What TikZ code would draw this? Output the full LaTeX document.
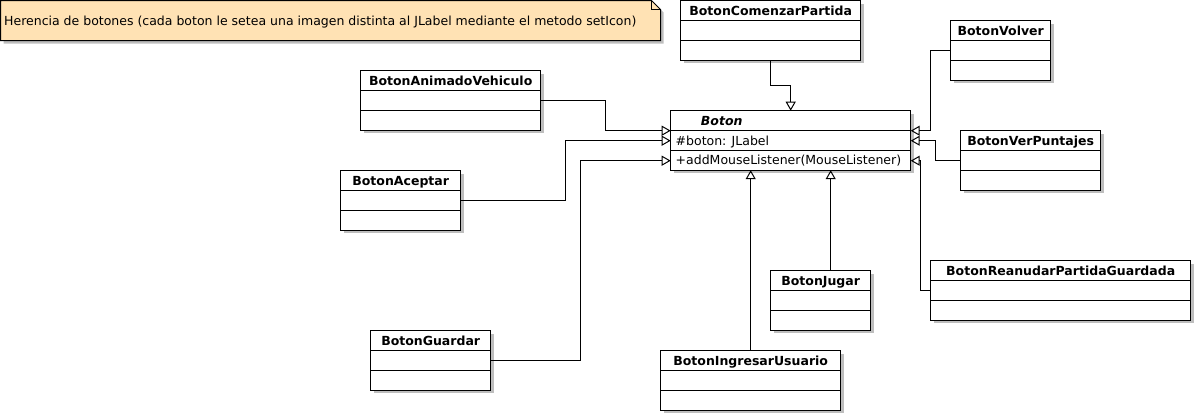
\documentclass[tikz,border=0pt]{standalone}
\usepackage{fontspec}
\setmainfont{DejaVu Sans}
\usetikzlibrary{positioning}
\usetikzlibrary{shapes,shadows,arrows.meta}
\definecolor{notefill}{RGB}{255,226,180}
\definecolor{shade}{RGB}{190,190,190}

\begin{document}
\begin{tikzpicture}[x=1pt,y=-1pt,line width=1pt,
    umlbox/.style={draw, fill=white, inner sep=0pt, outer sep=0pt, minimum height=59.5pt, anchor=north west,
      drop shadow={shadow xshift=3pt, shadow yshift=-3pt, fill=shade, opacity=1},
      path picture={\draw ([yshift=-20pt]path picture bounding box.north west) -- ([yshift=-20pt]path picture bounding box.north east)
                          ([yshift=-40pt]path picture bounding box.north west) -- ([yshift=-40pt]path picture bounding box.north east);}},
    ttl/.style={font=\bfseries\fontsize{12.5}{14}\selectfont, anchor=base, inner sep=0pt},
    member/.style={font=\fontsize{12.5}{14}\selectfont, anchor=base west, inner sep=0pt},
    extends/.style={-{Triangle[open, length=9pt, width=10pt]}}]
     \useasboundingbox (0,0) rectangle (1195,415);

     \node [inner sep=0pt, outer sep=0pt, anchor=north west, minimum width=660pt, minimum height=40pt] (nota) at (0.7,0.7) {};
     \draw [fill=notefill, drop shadow={shadow xshift=3pt, shadow yshift=-3pt, fill=shade, opacity=1}]
          (nota.north west) -- ([xshift=-9pt]nota.north east) -- ([yshift=-9pt]nota.north east) -- (nota.south east) -- (nota.south west) -- cycle;
     \draw ([xshift=-9pt]nota.north east) |- ([yshift=-9pt]nota.north east);
     \node [member] (notatxt) at ([xshift=3pt,yshift=-24.5pt]nota.north west) {Herencia de botones (cada boton le setea una imagen distinta al JLabel mediante el metodo setIcon)};

     \node [umlbox, minimum width=240pt] (boton) at (670.7,110.7) {};
     \node [ttl] (botonT) at ([xshift=-69pt,yshift=-15pt]boton.north) {\itshape Boton};
     \node [member] (botonA) at ([xshift=4.5pt,yshift=-34.5pt]boton.north west) {\#boton: JLabel};
     \node [member] (botonM) at ([xshift=4.5pt,yshift=-53.5pt]boton.north west) {+addMouseListener(MouseListener)};

     \node [umlbox, minimum width=180pt] (comenzar) at (680.7,0.7) {};
     \node [ttl] at ([yshift=-15pt]comenzar.north) {BotonComenzarPartida};
     \node [umlbox, minimum width=100pt] (volver) at (950.7,20.7) {};
     \node [ttl] at ([yshift=-15pt]volver.north) {BotonVolver};
     \node [umlbox, minimum width=180pt] (animado) at (360.7,70.7) {};
     \node [ttl] at ([yshift=-15pt]animado.north) {BotonAnimadoVehiculo};
     \node [umlbox, minimum width=140pt] (puntajes) at (960.7,130.7) {};
     \node [ttl] at ([yshift=-15pt]puntajes.north) {BotonVerPuntajes};
     \node [umlbox, minimum width=120pt] (aceptar) at (340.7,170.7) {};
     \node [ttl] at ([yshift=-15pt]aceptar.north) {BotonAceptar};
     \node [umlbox, minimum width=260pt] (reanudar) at (930.7,260.7) {};
     \node [ttl] at ([yshift=-15pt]reanudar.north) {BotonReanudarPartidaGuardada};
     \node [umlbox, minimum width=100pt] (jugar) at (770.7,270.7) {};
     \node [ttl] at ([yshift=-15pt]jugar.north) {BotonJugar};
     \node [umlbox, minimum width=120pt] (guardar) at (370.7,330.7) {};
     \node [ttl] at ([yshift=-15pt]guardar.north) {BotonGuardar};
     \node [umlbox, minimum width=180pt] (ingresar) at (660.7,350.7) {};
     \node [ttl] at ([yshift=-15pt]ingresar.north) {BotonIngresarUsuario};

     \draw [extends] (comenzar.south) -- ++(0,25) -| (boton.north);
     \draw [extends] (volver.west) -- ++(-20,0) |- ([yshift=-20pt]boton.north east);
     \draw [extends] (puntajes.west) -- ++(-25,0) |- ([yshift=-30pt]boton.north east);
     \draw [extends] (reanudar.west) -- ++(-10,0) |- ([yshift=-50pt]boton.north east);
     \draw [extends] ([xshift=10pt]jugar.north) -- ([xshift=40pt]boton.south);
     \draw [extends] (ingresar.north) -- ([xshift=-40pt]boton.south);
     \draw [extends] (animado.east) -- ++(65,0) |- ([yshift=-20pt]boton.north west);
     \draw [extends] (aceptar.east) -- ++(105,0) |- ([yshift=-30pt]boton.north west);
     \draw [extends] (guardar.east) -- ++(90,0) |- ([yshift=-50pt]boton.north west);
\end{tikzpicture}
\end{document}
